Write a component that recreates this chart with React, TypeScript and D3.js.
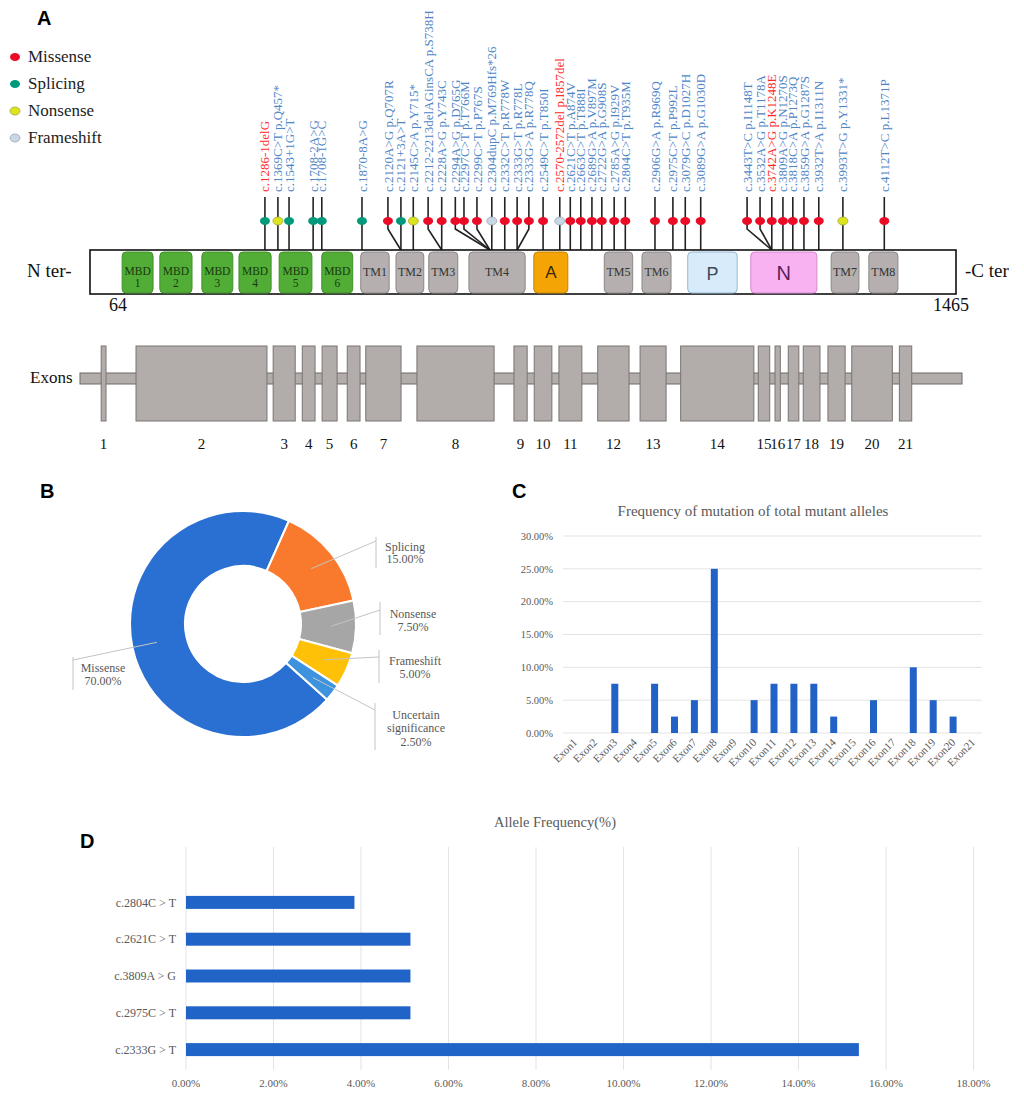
import React from 'react';
import * as d3 from 'd3';

// ---------- Panel A data ----------
const legendTypes = ['Missense', 'Splicing', 'Nonsense', 'Frameshift'];

const mutLabels = [
  'c.1286-1delG', 'c.1369C>T p.Q457*', 'c.1543+1G>T', 'c.1708-2A>G', 'c.1708-1G>C',
  'c.1870-8A>G', 'c.2120A>G p.Q707R', 'c.2121+3A>T', 'c.2145C>A p.Y715*',
  'c.2212-2213delAGinsCA p.S738H', 'c.2228A>G p.Y743C', 'c.2294A>G p.D765G',
  'c.2297C>T p.T766M', 'c.2299C>T p.P767S', 'c.2304dupC p.M769Hfs*26',
  'c.2332C>T p.R778W', 'c.2333G>T p.R778L', 'c.2333G>A p.R778Q', 'c.2549C>T p.T850I',
  'c.2570-2572del p.I857del', 'c.2621C>T p.A874V', 'c.2663C>T p.T888I',
  'c.2689G>A p.V897M', 'c.2722G>A p.G908S', 'c.2785A>G p.I929V', 'c.2804C>T p.T935M',
  'c.2906G>A p.R969Q', 'c.2975C>T p.P992L', 'c.3079G>C p.D1027H', 'c.3089G>A p.G1030D',
  'c.3443T>C p.I1148T', 'c.3532A>G p.T1178A', 'c.3742A>G p.K1248E', 'c.3809A>G p.N1270S',
  'c.3818C>A p.P1273Q', 'c.3859G>A p.G1287S', 'c.3932T>A p.I1311N', 'c.3993T>G p.Y1331*',
  'c.4112T>C p.L1371P',
];
// schematic position along the protein (aa scale 64..1465)
const mutPos = [347, 368, 386, 425, 439, 504, 546, 567, 587, 611, 633, 655, 669, 690, 714, 735,
  755, 774, 797, 824, 841, 858, 876, 892, 912, 930, 978, 1007, 1027, 1052, 1127, 1148, 1167,
  1185, 1201, 1219, 1243, 1282, 1349];
const mutType = ['Splicing', 'Nonsense', 'Splicing', 'Splicing', 'Splicing', 'Splicing', 'Missense',
  'Splicing', 'Nonsense', 'Missense', 'Missense', 'Missense', 'Missense', 'Missense', 'Frameshift',
  'Missense', 'Missense', 'Missense', 'Missense', 'Frameshift', 'Missense', 'Missense', 'Missense',
  'Missense', 'Missense', 'Missense', 'Missense', 'Missense', 'Missense', 'Missense', 'Missense',
  'Missense', 'Missense', 'Missense', 'Missense', 'Missense', 'Missense', 'Nonsense', 'Missense'];
// where a bent stem joins the protein (null = straight)
const mutAnchor = [null, null, null, null, null, null, 567, null, null, 633, null, 711, 711, 711,
  null, null, null, 755, null, null, null, null, null, null, null, null, null, null, null, null,
  1167, 1167, null, null, null, null, null, null, null];
const novelMut = ['c.1286-1delG', 'c.2570-2572del p.I857del', 'c.3742A>G p.K1248E'];

const domainNames = ['MBD\n1', 'MBD\n2', 'MBD\n3', 'MBD\n4', 'MBD\n5', 'MBD\n6', 'TM1', 'TM2', 'TM3',
  'TM4', 'A', 'TM5', 'TM6', 'P', 'N', 'TM7', 'TM8'];
const domainKind = ['MBD', 'MBD', 'MBD', 'MBD', 'MBD', 'MBD', 'TM', 'TM', 'TM', 'TM', 'A', 'TM', 'TM',
  'P', 'N', 'TM', 'TM'];
const domainStart = [116, 177, 245, 305, 370, 439, 502, 559, 612, 677, 782, 896, 957, 1031, 1133, 1263, 1324];
const domainEnd = [166, 229, 295, 357, 423, 489, 548, 604, 659, 768, 837, 942, 1004, 1111, 1240, 1308, 1371];
const proteinRange = [64, 1465];

// exons in schematic units 0..1000 along the gene
const exonNumbers = ['1', '2', '3', '4', '5', '6', '7', '8', '9', '10', '11', '12', '13', '14', '15',
  '16', '17', '18', '19', '20', '21'];
const exonStart = [24, 63.5, 219, 252, 274.5, 303, 324, 382, 492, 515, 543, 587, 635, 681, 769, 788,
  803, 820, 848, 875, 929];
const exonEnd = [29.5, 212, 244, 266.5, 291.5, 317.5, 364, 469.5, 507, 535, 569, 622.5, 664.5, 764,
  782, 794, 815, 839, 867.5, 921, 943];

// ---------- Panel B data ----------
const pieLabels = ['Missense', 'Splicing', 'Nonsense', 'Frameshift', 'Uncertain significance'];
const pieValues = [70, 15, 7.5, 5, 2.5];

// ---------- Panel C data ----------
const exonCats = ['Exon1', 'Exon2', 'Exon3', 'Exon4', 'Exon5', 'Exon6', 'Exon7', 'Exon8', 'Exon9',
  'Exon10', 'Exon11', 'Exon12', 'Exon13', 'Exon14', 'Exon15', 'Exon16', 'Exon17', 'Exon18',
  'Exon19', 'Exon20', 'Exon21'];
const exonFreq = [0, 0, 0.075, 0, 0.075, 0.025, 0.05, 0.25, 0, 0.05, 0.075, 0.075, 0.075, 0.025, 0,
  0.05, 0, 0.10, 0.05, 0.025, 0];
const cTicks = [0, 0.05, 0.10, 0.15, 0.20, 0.25, 0.30];

// ---------- Panel D data ----------
const alleleCats = ['c.2804C > T', 'c.2621C > T', 'c.3809A > G', 'c.2975C > T', 'c.2333G > T'];
const alleleFreq = [0.0385, 0.0513, 0.0513, 0.0513, 0.1538];
const dTicks = [0, 0.02, 0.04, 0.06, 0.08, 0.10, 0.12, 0.14, 0.16, 0.18];

const serif = "'Liberation Serif','Times New Roman',serif";
const sans = "'Liberation Sans',Arial,sans-serif";

const headFill: Record<string, string> = {
  Missense: '#ec0b26', Splicing: '#00997c', Nonsense: '#dbe41c', Frameshift: '#c9d6e3',
};
const headStroke: Record<string, string> = {
  Missense: 'none', Splicing: 'none', Nonsense: '#a6a630', Frameshift: '#9aa6b4',
};
const domFill: Record<string, string> = {
  MBD: '#52ad37', TM: '#b5b0af', A: '#f4a505', P: '#d8ebfa', N: '#f8b2f2',
};
const domStroke: Record<string, string> = {
  MBD: '#3f9128', TM: '#8d8888', A: '#c98400', P: '#94b8d3', N: '#d887d2',
};

function PanelA() {
  const xA = d3.scaleLinear().domain(proteinRange).range([90, 956]);
  const xE = d3.scaleLinear().domain([0, 1000]).range([80, 962]);
  const barTop = 250, barBot = 294;
  const headY = 221, stemTop = 197, labelBase = 192;
  return (
    <g>
      <text x={37} y={25} fontFamily={sans} fontWeight="bold" fontSize={20}>A</text>
      {legendTypes.map((t, i) => (
        <g key={t}>
          <ellipse cx={15} cy={57 + i * 27} rx={5} ry={4} fill={headFill[t]}
            stroke={headStroke[t]} strokeWidth={0.8} />
          <text x={28} y={62 + i * 27} fontFamily={serif} fontSize={17} fill="#222">{t}</text>
        </g>
      ))}
      {/* stems */}
      {mutPos.map((p, i) => {
        const x = xA(p);
        const a = mutAnchor[i];
        const d = a == null ? `M${x},${stemTop}L${x},${barTop}`
          : `M${x},${stemTop}L${x},${headY + 8}L${xA(a)},${barTop}`;
        return <path key={'s' + i} d={d} fill="none" stroke="#222" strokeWidth={1.6} />;
      })}
      {/* labels */}
      {mutPos.map((p, i) => (
        <text key={'l' + i} transform={`translate(${xA(p)},${labelBase}) rotate(-90)`} dy="0.35em"
          fontFamily={serif} fontSize={13}
          fill={novelMut.includes(mutLabels[i]) ? '#ff2b2b' : '#4f86c8'}>{mutLabels[i]}</text>
      ))}
      {/* protein bar */}
      <rect x={xA(proteinRange[0])} y={barTop} width={xA(proteinRange[1]) - xA(proteinRange[0])}
        height={barBot - barTop} fill="#fff" stroke="#111" strokeWidth={1.6} />
      {domainNames.map((n, i) => {
        const x0 = xA(domainStart[i]), x1 = xA(domainEnd[i]);
        const k = domainKind[i];
        const cx = (x0 + x1) / 2;
        const lines = n.split('\n');
        return (
          <g key={'d' + i}>
            <rect x={x0} y={barTop + 2} width={x1 - x0} height={barBot - barTop - 3} rx={4}
              fill={domFill[k]} stroke={domStroke[k]} strokeWidth={1} />
            {k === 'MBD' ? (
              <>
                <text x={cx} y={275} textAnchor="middle" fontFamily={serif} fontSize={11.5} fill="#173a0c">{lines[0]}</text>
                <text x={cx} y={287} textAnchor="middle" fontFamily={serif} fontSize={11.5} fill="#173a0c">{lines[1]}</text>
              </>
            ) : k === 'TM' ? (
              <text x={cx} y={276} textAnchor="middle" fontFamily={serif} fontSize={12} fill="#333">{n}</text>
            ) : (
              <text x={cx} y={k === 'A' ? 278 : 280} textAnchor="middle" fontFamily={sans}
                fontSize={k === 'A' ? 17 : k === 'P' ? 18 : 20}
                fill={k === 'A' ? '#3a2600' : k === 'P' ? '#3d4a5a' : '#5a1f5a'}>{n}</text>
            )}
          </g>
        );
      })}
      {/* heads */}
      {mutPos.map((p, i) => (
        <ellipse key={'h' + i} cx={xA(p)} cy={headY} rx={5} ry={4} fill={headFill[mutType[i]]}
          stroke={headStroke[mutType[i]]} strokeWidth={0.8} />
      ))}
      <text x={27} y={277} fontFamily={serif} fontSize={19} fill="#111">N ter-</text>
      <text x={965} y={277} fontFamily={serif} fontSize={19} fill="#111">-C ter</text>
      <text x={118} y={311} textAnchor="middle" fontFamily={serif} fontSize={18} fill="#111">{proteinRange[0]}</text>
      <text x={951} y={311} textAnchor="middle" fontFamily={serif} fontSize={18} fill="#111">{proteinRange[1]}</text>

      {/* exons */}
      <text x={30} y={383} fontFamily={serif} fontSize={17} fill="#111">Exons</text>
      <rect x={xE(0)} y={373} width={xE(1000) - xE(0)} height={11} fill="#b2acaa" stroke="#6f6a68" strokeWidth={1} />
      {exonNumbers.map((n, i) => (
        <g key={'e' + i}>
          <rect x={xE(exonStart[i])} y={346} width={xE(exonEnd[i]) - xE(exonStart[i])} height={75}
            fill="#b2acaa" stroke="#7a7472" strokeWidth={1} />
          <text x={(xE(exonStart[i]) + xE(exonEnd[i])) / 2} y={449} textAnchor="middle"
            fontFamily={serif} fontSize={15} fill="#111">{n}</text>
        </g>
      ))}
    </g>
  );
}

function PanelB() {
  const cx = 243, cy = 624;
  const pieColors = ['#2a70d2', '#f97a2c', '#a6a6a6', '#ffc107', '#3d93de'];
  const pie = d3.pie<number>().sort(null).value(d => d)
    .startAngle((132 * Math.PI) / 180).endAngle((132 * Math.PI) / 180 + 2 * Math.PI);
  const arcs = pie(pieValues);
  const arc = d3.arc<d3.PieArcDatum<number>>().innerRadius(58).outerRadius(113);
  const mid = d3.arc<d3.PieArcDatum<number>>().innerRadius(88).outerRadius(88);
  const layout = [
    { tx: 103, ty: [672, 685], bx: 73, b0: 657, b1: 690, ey: 660 },
    { tx: 405, ty: [551, 563], bx: 376, b0: 537, b1: 568, ey: 541 },
    { tx: 413, ty: [618, 631], bx: 380, b0: 602, b1: 635, ey: 610 },
    { tx: 415, ty: [665, 678], bx: 379, b0: 650, b1: 683, ey: 657 },
    { tx: 416, ty: [719, 732, 746], bx: 375, b0: 703, b1: 750, ey: 710 },
  ];
  const fmt = d3.format('.2f');
  return (
    <g>
      <text x={40} y={498} fontFamily={sans} fontWeight="bold" fontSize={20}>B</text>
      <g transform={`translate(${cx},${cy})`}>
        {arcs.map((a, i) => (
          <path key={i} d={arc(a) || ''} fill={pieColors[i]} stroke="#fff" strokeWidth={2} />
        ))}
      </g>
      {arcs.map((a, i) => {
        const [mx, my] = mid.centroid(a);
        const L = layout[i];
        const words = pieLabels[i] === 'Uncertain significance' ? ['Uncertain', 'significance'] : [pieLabels[i]];
        const lines = [...words, fmt(pieValues[i]) + '%'];
        return (
          <g key={'lb' + i}>
            <line x1={cx + mx} y1={cy + my} x2={L.bx} y2={L.ey} stroke="#c4c4c4" strokeWidth={1} />
            <line x1={L.bx} y1={L.b0} x2={L.bx} y2={L.b1} stroke="#c4c4c4" strokeWidth={1} />
            {lines.map((t, j) => (
              <text key={j} x={L.tx} y={L.ty[j]} textAnchor="middle" fontFamily={serif} fontSize={12}
                fill="#595959">{t}</text>
            ))}
          </g>
        );
      })}
    </g>
  );
}

function PanelC() {
  const x = d3.scalePoint<string>().domain(exonCats).range([575, 973]);
  const y = d3.scaleLinear().domain([0, 0.30]).range([733, 536]);
  const fmt = d3.format('.2%');
  return (
    <g>
      <text x={512} y={498} fontFamily={sans} fontWeight="bold" fontSize={20}>C</text>
      <text x={753} y={516} textAnchor="middle" fontFamily={serif} fontSize={15} fill="#595959">
        Frequency of mutation of total mutant alleles</text>
      {cTicks.map(t => (
        <g key={t}>
          <line x1={563} x2={982} y1={y(t)} y2={y(t)} stroke="#e3e3e3" strokeWidth={1} />
          <text x={553} y={y(t)} dy="0.35em" textAnchor="end" fontFamily={serif} fontSize={10.5}
            fill="#595959">{fmt(t)}</text>
        </g>
      ))}
      {exonCats.map((c, i) => (
        <g key={c}>
          {exonFreq[i] > 0 && (
            <rect x={(x(c) as number) - 3.5} y={y(exonFreq[i])} width={7} height={y(0) - y(exonFreq[i])}
              fill="#2262c6" />
          )}
          <text transform={`translate(${(x(c) as number) + 3},${743}) rotate(-45)`} textAnchor="end"
            fontFamily={serif} fontSize={11} fill="#595959">{c}</text>
        </g>
      ))}
    </g>
  );
}

function PanelD() {
  const x = d3.scaleLinear().domain([0, 0.18]).range([186, 973.5]);
  const y = d3.scaleBand<string>().domain(alleleCats).range([884, 1068]);
  const fmt = d3.format('.2%');
  return (
    <g>
      <text x={80} y={848} fontFamily={sans} fontWeight="bold" fontSize={20}>D</text>
      <text x={555} y={827} textAnchor="middle" fontFamily={serif} fontSize={14.5} fill="#595959">
        Allele Frequency(%)</text>
      {dTicks.map(t => (
        <g key={t}>
          <line x1={x(t)} x2={x(t)} y1={847} y2={1070} stroke="#e3e3e3" strokeWidth={1} />
          <text x={x(t)} y={1087} textAnchor="middle" fontFamily={serif} fontSize={11}
            fill="#595959">{fmt(t)}</text>
        </g>
      ))}
      {alleleCats.map((c, i) => {
        const yc = (y(c) as number) + y.bandwidth() / 2;
        return (
          <g key={c}>
            <rect x={x(0)} y={yc - 6.5} width={x(alleleFreq[i]) - x(0)} height={13} fill="#2064c8" />
            <text x={176} y={yc} dy="0.35em" textAnchor="end" fontFamily={serif} fontSize={12}
              fill="#595959">{c}</text>
          </g>
        );
      })}
    </g>
  );
}

export default function App() {
  return (
    <svg width={1024} height={1098} viewBox="0 0 1024 1098"
      style={{ position: 'absolute', left: 0, top: 0, background: '#fff' }}>
      <rect x={0} y={0} width={1024} height={1098} fill="#fff" />
      <PanelA />
      <PanelB />
      <PanelC />
      <PanelD />
    </svg>
  );
}
